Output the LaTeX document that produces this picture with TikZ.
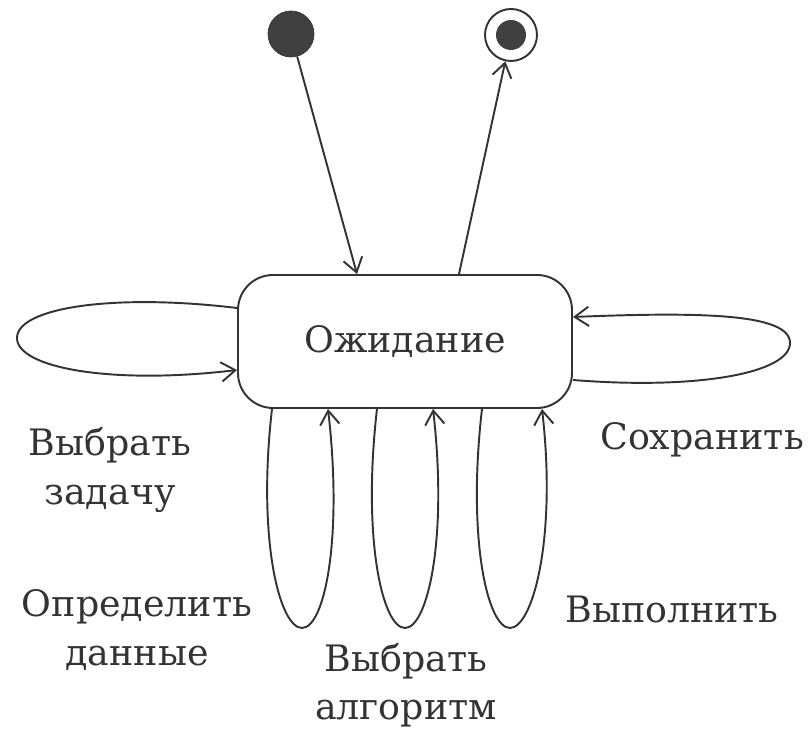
\documentclass[tikz,border=0pt]{standalone}
\usepackage{fontspec}
\setmainfont{DejaVu Serif}
\usetikzlibrary{arrows.meta, positioning, calc}
\tikzset{
  line/.style={draw=black!80, line width=1.1pt},
  trans/.style={line, -{Straight Barb[length=8pt,width=11pt]}},
  lbl/.style={align=center, text=black!80, font=\fontsize{20.7}{27.5}\selectfont},
}

\begin{document}
\begin{tikzpicture}
\useasboundingbox (0,0) rectangle (16.24,14.64);
\node[circle, fill=black!75, draw=black!80, minimum size=0.92cm, inner sep=0] (start) at (5.82,13.96) {};
\node[circle, line, minimum size=1.04cm, inner sep=0] (finish) at (10.22,13.94) {};
\node[circle, fill=black!75, minimum size=0.6cm, inner sep=0] (finishdot) at (finish) {};
\node[line, rounded corners=0.7cm, minimum width=6.68cm, minimum height=2.66cm, lbl] (wait) at (8.10,7.81) {Ожидание};

\draw[trans] (start) -- ([xshift=-0.96cm]wait.north);
\draw[trans] ([xshift=1.08cm]wait.north) -- (finish);

% side loops
\draw[trans] ([yshift=0.67cm]wait.west) .. controls +(-2.5,0.3) and +(0,0.6) .. (0.34,7.88) .. controls +(0,-0.6) and +(-2.5,-0.3) .. ([yshift=-0.57cm]wait.west);
\draw[trans] ([yshift=-0.77cm]wait.east) .. controls +(2.5,-0.2) and +(0,-0.6) .. (15.8,7.78) .. controls +(0,0.6) and +(2.5,0.1) .. ([yshift=0.49cm]wait.east);

% bottom loops
\draw[trans] ([xshift=-2.66cm]wait.south) .. controls +(-0.3,-2.6) and +(-0.45,0) .. (6.04,2.08) .. controls +(0.45,0) and +(0.3,-2.6) .. ([xshift=-1.54cm]wait.south);
\draw[trans] ([xshift=-0.56cm]wait.south) .. controls +(-0.3,-2.6) and +(-0.45,0) .. (8.10,2.08) .. controls +(0.45,0) and +(0.3,-2.6) .. ([xshift=0.56cm]wait.south);
\draw[trans] ([xshift=1.54cm]wait.south) .. controls +(-0.3,-2.6) and +(-0.45,0) .. (10.2,2.08) .. controls +(0.45,0) and +(0.3,-2.6) .. ([xshift=2.74cm]wait.south);

\node[lbl] (pick) at (2.2,5.24) {Выбрать\\задачу};
\node[lbl] (save) at (14.04,5.84) {Сохранить};
\node[lbl] (define) at (2.74,2.04) {Определить\\данные};
\node[lbl] (run) at (13.44,2.44) {Выполнить};
\node[lbl] (algo) at (8.12,0.94) {Выбрать\\алгоритм};
\end{tikzpicture}
\end{document}
